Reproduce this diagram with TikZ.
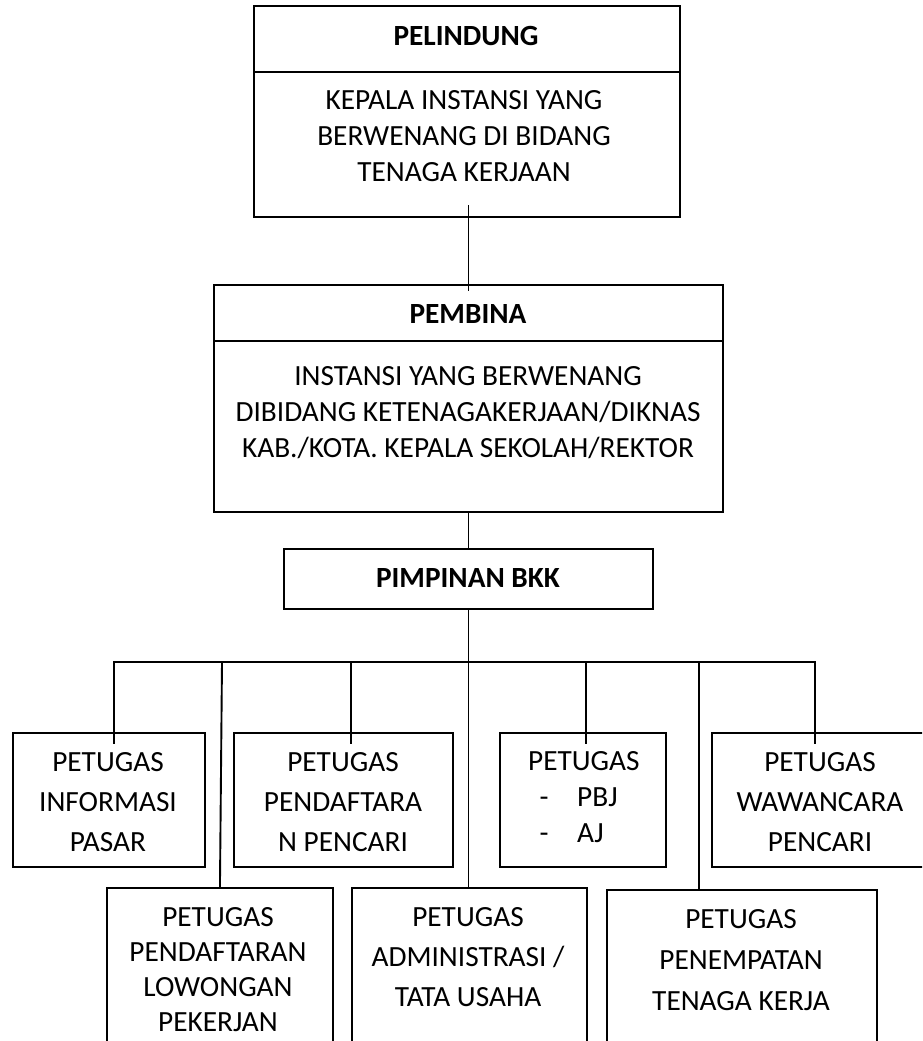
\documentclass[tikz,border=0pt]{standalone}
\usepackage{fontspec}
\setmainfont{Carlito}

\tikzset{
  box/.style={draw, line width=1.9pt, anchor=north west, inner sep=0pt},
  txt/.style={align=center, inner sep=0pt, font=\fontsize{29.3}{36}\selectfont},
  ttl/.style={txt, font=\fontsize{29.3}{36}\selectfont\bfseries},
  link/.style={line width=1.9pt, line cap=rect},
}

\begin{document}
\begin{tikzpicture}[x=1pt, y=-1pt]
\useasboundingbox (0,0) rectangle (922,1041);
\clip (0,0) rectangle (922,1041);

% boxes
\node[box, minimum width=426pt, minimum height=66pt] (pelindungHead) at (253,5) {};
\node[box, minimum width=426pt, minimum height=145pt] (pelindung) at (253,71) {};
\node[box, minimum width=509pt, minimum height=56pt] (pembinaHead) at (213,284) {};
\node[box, minimum width=509pt, minimum height=171pt] (pembina) at (213,340) {};
\node[box, minimum width=369pt, minimum height=60pt] (pimpinan) at (283,548) {};

\node[box, minimum width=192pt, minimum height=134pt] (info) at (12,732) {};
\node[box, minimum width=219pt, minimum height=134pt] (daftarPencari) at (233,732) {};
\node[box, minimum width=166pt, minimum height=134pt] (pbj) at (499,732) {};
\node[box, minimum width=218pt, minimum height=134pt] (wawancara) at (711,732) {};

\node[box, minimum width=226pt, minimum height=193pt] (lowongan) at (106,887) {};
\node[box, minimum width=235pt, minimum height=193pt] (admin) at (351,887) {};
\node[box, minimum width=270pt, minimum height=191pt] (penempatan) at (606,889) {};

% texts
\node[ttl] (pelindungTtl) at (466,36) {PELINDUNG};
\node[txt] (pelindungTxt) at (464,136) {KEPALA INSTANSI YANG\\BERWENANG DI BIDANG\\TENAGA KERJAAN};
\node[ttl] (pembinaTtl) at (468,314) {PEMBINA};
\node[txt] (pembinaTxt) at (468,413) {INSTANSI YANG BERWENANG\\DIBIDANG KETENAGAKERJAAN/DIKNAS\\KAB./KOTA. KEPALA SEKOLAH/REKTOR};
\node[ttl] (pimpinanTtl) at (468,578) {PIMPINAN BKK};

\node[txt, font=\fontsize{29.3}{40}\selectfont] (infoTxt) at (108,802.5) {PETUGAS\\INFORMASI\\PASAR};
\node[txt, font=\fontsize{29.3}{40}\selectfont] (daftarTxt) at (343,802.5) {PETUGAS\\PENDAFTARA\\N PENCARI};
\node[txt, align=left, anchor=west] (pbjTxt) at (528,797.5) {PETUGAS\\\makebox[49pt][l]{\hspace{11.5pt}-}PBJ\\\makebox[49pt][l]{\hspace{11.5pt}-}AJ};
\node[txt, font=\fontsize{29.3}{40}\selectfont] (wawancaraTxt) at (820,802.5) {PETUGAS\\WAWANCARA\\PENCARI};

\node[txt, font=\fontsize{29.3}{35}\selectfont] (lowonganTxt) at (218,969.5) {PETUGAS\\PENDAFTARAN\\LOWONGAN\\PEKERJAN};
\node[txt, font=\fontsize{29.3}{40}\selectfont] (adminTxt) at (468,957) {PETUGAS\\ADMINISTRASI /\\TATA USAHA};
\node[txt, font=\fontsize{29.3}{41}\selectfont] (penempatanTxt) at (741,960.5) {PETUGAS\\PENEMPATAN\\TENAGA KERJA};

% connectors
\draw[link] ([yshift=12pt]pembinaHead.north |- pelindung.south) -- ([yshift=-6pt]pembinaHead.north);
\draw[link] (pembina.south) -- (pimpinan.north);
\draw[link] (pimpinan.south) -- (pimpinan.south |- admin.north);

\coordinate (barL) at (114,662);
\coordinate (barR) at (815,662);
\draw[link] (barL) -- (barR);

\foreach \b/\x in {info/114, daftarPencari/351, pbj/586, wawancara/815}{
  \coordinate (t\b) at (\x,662);
  \draw[link] (t\b) -- (t\b |- \b.north) -- ++(0,11);
}
\coordinate (tLow) at (222,662);
\draw[link] (tLow) -- (lowongan.north);
\coordinate (tPen) at (699,662);
\draw[link] (tPen) -- (tPen |- penempatan.north);
\end{tikzpicture}
\end{document}
